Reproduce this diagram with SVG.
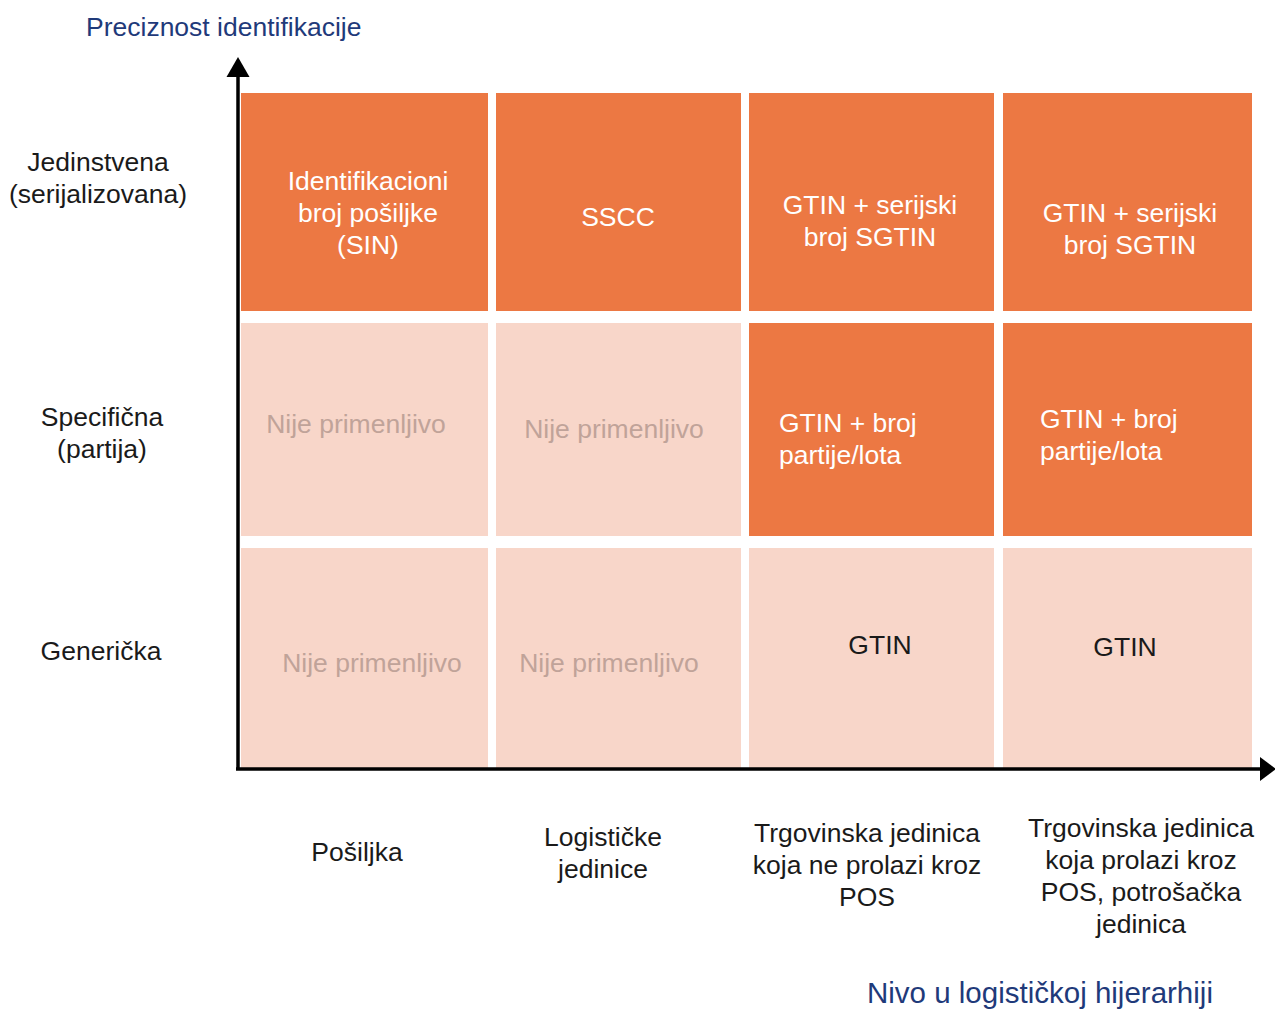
<svg xmlns="http://www.w3.org/2000/svg" width="1275" height="1009" viewBox="0 0 1275 1009">
<defs>
<style>
text{font-family:"Liberation Sans",Arial,sans-serif;font-size:26.5px}
.dark{fill:#EC7843}
.light{fill:#F8D6C9}
.w{fill:#FFFFFF}
.g{fill:#C0A399}
.k{fill:#1A1A1A}
.n{fill:#1F3A7A}
.m{text-anchor:middle}
.ax{stroke:#000;stroke-width:3.5;fill:none}
.ah{fill:#000}
</style>
</defs>
<rect width="1275" height="1009" fill="#fff"/>

<g id="cell-r1c1"><rect class="dark" x="241" y="93" width="247" height="218"/>
<text class="w m" x="368" y="190">Identifikacioni</text><text class="w m" x="368" y="222">broj pošiljke</text><text class="w m" x="368" y="254">(SIN)</text></g>
<g id="cell-r1c2"><rect class="dark" x="496" y="93" width="245" height="218"/>
<text class="w m" x="618" y="226">SSCC</text></g>
<g id="cell-r1c3"><rect class="dark" x="749" y="93" width="245" height="218"/>
<text class="w m" x="870" y="214">GTIN + serijski</text><text class="w m" x="870" y="246">broj SGTIN</text></g>
<g id="cell-r1c4"><rect class="dark" x="1003" y="93" width="249" height="218"/>
<text class="w m" x="1130" y="222">GTIN + serijski</text><text class="w m" x="1130" y="254">broj SGTIN</text></g>

<g id="cell-r2c1"><rect class="light" x="241" y="323" width="247" height="213"/>
<text class="g m" x="356" y="433">Nije primenljivo</text></g>
<g id="cell-r2c2"><rect class="light" x="496" y="323" width="245" height="213"/>
<text class="g m" x="614" y="438">Nije primenljivo</text></g>
<g id="cell-r2c3"><rect class="dark" x="749" y="323" width="245" height="213"/>
<text class="w" x="779" y="432">GTIN + broj</text><text class="w" x="779" y="464">partije/lota</text></g>
<g id="cell-r2c4"><rect class="dark" x="1003" y="323" width="249" height="213"/>
<text class="w" x="1040" y="428">GTIN + broj</text><text class="w" x="1040" y="460">partije/lota</text></g>

<g id="cell-r3c1"><rect class="light" x="241" y="548" width="247" height="220"/>
<text class="g m" x="372" y="672">Nije primenljivo</text></g>
<g id="cell-r3c2"><rect class="light" x="496" y="548" width="245" height="220"/>
<text class="g m" x="609" y="672">Nije primenljivo</text></g>
<g id="cell-r3c3"><rect class="light" x="749" y="548" width="245" height="220"/>
<text class="k m" x="880" y="654">GTIN</text></g>
<g id="cell-r3c4"><rect class="light" x="1003" y="548" width="249" height="220"/>
<text class="k m" x="1125" y="656">GTIN</text></g>

<g id="axes">
<path class="ax" d="M238,769 L238,74"/>
<path class="ax" d="M236,769 L1262,769"/>
<path class="ah" d="M238,57 L249.5,77 L226.5,77 Z"/>
<path class="ah" d="M1276,769 L1260,757 L1260,781 Z"/>
</g>

<g id="labels">
<text class="n" x="86" y="36">Preciznost identifikacije</text>
<text class="k m" x="98" y="171">Jedinstvena</text>
<text class="k m" x="98" y="203">(serijalizovana)</text>
<text class="k m" x="102" y="426">Specifična</text>
<text class="k m" x="102" y="458">(partija)</text>
<text class="k m" x="101" y="660">Generička</text>
<text class="k m" x="357" y="861">Pošiljka</text>
<text class="k m" x="603" y="846">Logističke</text>
<text class="k m" x="603" y="878">jedinice</text>
<text class="k m" x="867" y="842">Trgovinska jedinica</text>
<text class="k m" x="867" y="874">koja ne prolazi kroz</text>
<text class="k m" x="867" y="906">POS</text>
<text class="k m" x="1141" y="837">Trgovinska jedinica</text>
<text class="k m" x="1141" y="869">koja prolazi kroz</text>
<text class="k m" x="1141" y="901">POS, potrošačka</text>
<text class="k m" x="1141" y="933">jedinica</text>
<text class="n" x="867" y="1003" style="font-size:29.5px">Nivo u logističkoj hijerarhiji</text>
</g>
</svg>
